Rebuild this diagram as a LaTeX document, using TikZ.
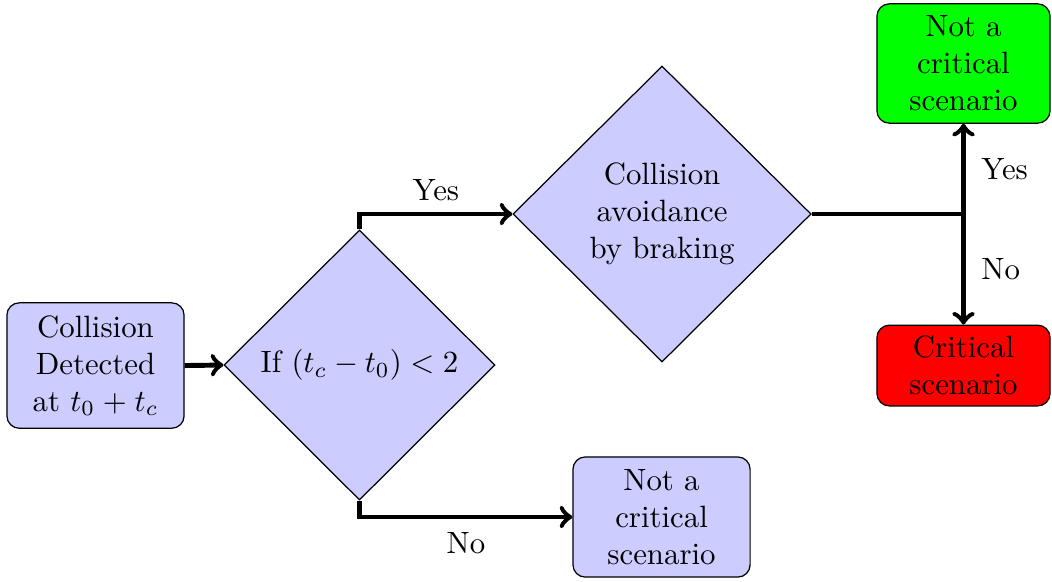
\documentclass[tikz,border=0pt]{standalone}
\usetikzlibrary{shapes.geometric}
\begin{document}
\begin{tikzpicture}[
  boxnode/.style={draw, rounded corners=4pt, align=center, text width=1.78cm, minimum width=2.02cm, inner sep=0.333em},
  decision/.style={draw, diamond, aspect=1, align=center, fill=blue!20, inner sep=0pt},
  conn/.style={ultra thick},
  arr/.style={ultra thick, ->}
]
\useasboundingbox (0,0) rectangle (11.995,6.625);
\node[boxnode, fill=blue!20, minimum height=1.43cm] (start) at (1.089,2.457) {Collision\\Detected\\at $t_0+t_c$};
\node[decision, minimum width=3.09cm, minimum height=3.08cm] (d1) at (4.099,2.463) {If $(t_c-t_0)<2$};
\node[decision, minimum width=3.40cm, minimum height=3.375cm] (d2) at (7.549,4.185) {Collision\\avoidance\\by braking};
\node[boxnode, fill=blue!20, minimum height=1.37cm] (nc1) at (7.543,0.730) {Not a\\critical\\scenario};
\node[boxnode, fill=green, minimum width=1.97cm, text width=1.74cm, minimum height=1.36cm] (nc2) at (10.986,5.901) {Not a\\critical\\scenario};
\node[boxnode, fill=red, minimum width=1.97cm, text width=1.74cm, minimum height=0.92cm] (crit) at (10.986,2.457) {Critical\\scenario};
\coordinate (j) at (10.986,4.185);

\draw[arr] (start.east) -- (d1.west);
\draw[arr] (d1.north) |- node[pos=0.75, above] {Yes} (d2.west);
\draw[arr] (d1.south) |- node[pos=0.75, below, yshift=-1pt] {No} (nc1.west);
\draw[conn] (d2.east) -- (j);
\draw[arr] (j) -- node[right, xshift=1.7pt] {Yes} (nc2.south);
\draw[arr] (j) -- node[right, xshift=1.7pt] {No} (crit.north);
\end{tikzpicture}
\end{document}
